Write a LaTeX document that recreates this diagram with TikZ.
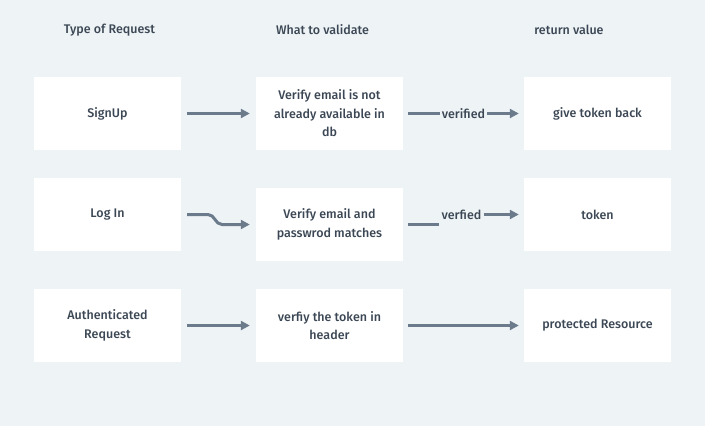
\documentclass[tikz,border=0pt]{standalone}
\usepackage{fontspec}
\setmainfont{Fira Sans Medium}
\usetikzlibrary{arrows.meta}
\definecolor{bgc}{HTML}{EEF3F6}
\definecolor{txt}{HTML}{3B4754}
\definecolor{arc}{HTML}{6B7B8C}
\tikzset{
  box/.style={fill=white, minimum width=147pt, minimum height=73pt, inner sep=0pt, align=center, text=txt, font=\fontsize{12.5}{18.5}\selectfont},
  hdr/.style={text=txt, font=\fontsize{12.5}{15}\selectfont},
  lbl/.style={text=txt, font=\fontsize{12.5}{15}\selectfont, inner sep=2pt, fill=bgc},
  conn/.style={draw=arc, line width=3pt},
  arr/.style={conn, -{Triangle[length=9pt,width=9pt]}},
}
\begin{document}
\begin{tikzpicture}[x=1pt,y=-1pt]
\fill[bgc] (0,0) rectangle (705,426);
\useasboundingbox (0,0) rectangle (705,426);
\node[hdr] (h1) at (109.5,30) {Type of Request};
\node[hdr] (h2) at (322.5,30) {What to validate};
\node[hdr] (h3) at (569,30) {return value};

\node[box] (s1) at (107.5,113.5) {SignUp};
\node[box] (v1) at (329.5,113.5) {Verify email is not\\already available in\\db};
\node[box] (r1) at (597.5,113.5) {give token back};

\node[box] (s2) at (107.5,214.5) {Log In};
\node[box] (v2) at (329.5,224.5) {Verify email and\\passwrod matches};
\node[box] (r2) at (597.5,214.5) {token};

\node[box] (s3) at (107.5,325.5) {Authenticated\\Request};
\node[box] (v3) at (329.5,325.5) {verfiy the token in\\header};
\node[box] (r3) at (597.5,325.5) {protected Resource};

% row 1
\draw[arr, shorten <=6pt, shorten >=6pt] (s1.east) -- (v1.west);
\node[lbl] (l1) at (463.5,113.5) {verified};
\draw[conn, shorten <=5pt] (v1.east) -- (l1.west);
\draw[arr, shorten >=5pt] (l1.east) -- (r1.west);

% row 2
\coordinate (b1) at (208,214.5);
\coordinate (b2) at (222,224.5);
\draw[arr] ([xshift=6pt]s2.east) -- (b1) .. controls (215,214.5) and (215,224.5) .. (b2) -- ([xshift=-6pt]v2.west);
\node[lbl] (l2) at (461.5,214.5) {verfied};
\draw[conn, shorten <=5pt] (v2.east) -- (v2.east -| l2.west);
\draw[arr, shorten >=5pt] (l2.east) -- (l2.east -| r2.west);

% row 3
\draw[arr, shorten <=6pt, shorten >=6pt] (s3.east) -- (v3.west);
\draw[arr, shorten <=5pt, shorten >=5pt] (v3.east) -- (r3.west);
\end{tikzpicture}
\end{document}
